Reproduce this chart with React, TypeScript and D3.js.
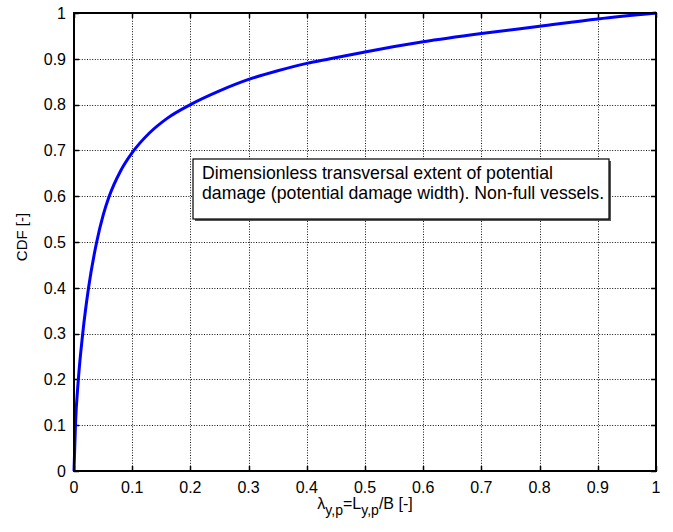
import React, { useEffect, useRef } from "react";
import * as d3 from "d3";

// curve points
const lambdaValues = [0, 0.0025, 0.0075, 0.015, 0.025, 0.039, 0.05, 0.06, 0.08, 0.1, 0.13, 0.16, 0.2, 0.25, 0.3, 0.35, 0.4, 0.44, 0.5, 0.6, 0.7, 0.8, 0.9, 1.0];
const cdfValues = [0, 0.1, 0.2, 0.3, 0.4, 0.5, 0.558, 0.598, 0.655, 0.695, 0.7385, 0.77, 0.8, 0.83, 0.855, 0.874, 0.89, 0.9, 0.915, 0.937, 0.955, 0.971, 0.987, 1.0];

const xTicks = [0, 0.1, 0.2, 0.3, 0.4, 0.5, 0.6, 0.7, 0.8, 0.9, 1];
const yTicks = [0, 0.1, 0.2, 0.3, 0.4, 0.5, 0.6, 0.7, 0.8, 0.9, 1];

const noteLines = [
    "Dimensionless transversal extent of potential",
    "damage (potential damage width). Non-full vessels.",
];

export default function App() {
    const svgRef = useRef<SVGSVGElement>(null);

    useEffect(() => {
        const width = 673;
        const height = 532;
        const margin = { top: 13, right: 17, bottom: 61, left: 74 };
        const font = "Arial, 'Liberation Sans', Helvetica, sans-serif";

        const svg = d3.select(svgRef.current);
        svg.selectAll("*").remove();
        svg.attr("width", width).attr("height", height);

        svg.append("rect").attr("width", width).attr("height", height).attr("fill", "#fff");

        const x = d3.scaleLinear().domain([0, 1]).range([margin.left, width - margin.right]);
        const y = d3.scaleLinear().domain([0, 1]).range([height - margin.bottom, margin.top]);

        const [x0, x1] = x.range();
        const [y0, y1] = y.range();

        // dotted grid
        const grid = svg.append("g").attr("stroke", "#111").attr("stroke-width", 1).attr("stroke-dasharray", "1,1.6");
        grid.selectAll(".gx")
            .data(xTicks.slice(1, -1))
            .join("line")
            .attr("x1", (d) => Math.round(x(d)) + 0.5)
            .attr("x2", (d) => Math.round(x(d)) + 0.5)
            .attr("y1", y1)
            .attr("y2", y0);
        grid.selectAll(".gy")
            .data(yTicks.slice(1, -1))
            .join("line")
            .attr("y1", (d) => Math.round(y(d)) + 0.5)
            .attr("y2", (d) => Math.round(y(d)) + 0.5)
            .attr("x1", x0)
            .attr("x2", x1);

        // ticks on all four sides, pointing inwards
        const tickLen = 5;
        const ticks = svg.append("g").attr("stroke", "#000").attr("stroke-width", 1.5);
        xTicks.forEach((t) => {
            const px = Math.round(x(t)) + 0.5;
            ticks.append("line").attr("x1", px).attr("x2", px).attr("y1", y0).attr("y2", y0 - tickLen);
            ticks.append("line").attr("x1", px).attr("x2", px).attr("y1", y1).attr("y2", y1 + tickLen);
        });
        yTicks.forEach((t) => {
            const py = Math.round(y(t)) + 0.5;
            ticks.append("line").attr("y1", py).attr("y2", py).attr("x1", x0).attr("x2", x0 + tickLen);
            ticks.append("line").attr("y1", py).attr("y2", py).attr("x1", x1).attr("x2", x1 - tickLen);
        });

        // the CDF curve
        const pts = lambdaValues.map((v, i) => [v, cdfValues[i]] as [number, number]);
        const line = d3.line<[number, number]>()
            .x((d) => x(d[0]))
            .y((d) => y(d[1]))
            .curve(d3.curveMonotoneX);
        svg.append("path")
            .datum(pts)
            .attr("d", line)
            .attr("fill", "none")
            .attr("stroke", "#0000ff")
            .attr("stroke-width", 3);

        // axes box
        svg.append("rect")
            .attr("x", x0)
            .attr("y", y1)
            .attr("width", x1 - x0)
            .attr("height", y0 - y1)
            .attr("fill", "none")
            .attr("stroke", "#000")
            .attr("stroke-width", 2);

        // tick labels
        svg.append("g")
            .selectAll("text")
            .data(xTicks)
            .join("text")
            .attr("x", (d) => x(d))
            .attr("y", y0 + 21.5)
            .attr("text-anchor", "middle")
            .attr("font-family", font)
            .attr("font-size", 16)
            .text((d) => String(d));
        svg.append("g")
            .selectAll("text")
            .data(yTicks)
            .join("text")
            .attr("x", x0 - 8)
            .attr("y", (d) => y(d))
            .attr("dy", "0.36em")
            .attr("text-anchor", "end")
            .attr("font-family", font)
            .attr("font-size", 16)
            .text((d) => String(d));

        // axis labels
        svg.append("text")
            .attr("transform", `translate(27,237) rotate(-90)`)
            .attr("text-anchor", "middle")
            .attr("font-family", font)
            .attr("font-size", 15)
            .text("CDF [-]");

        const xl = svg.append("text")
            .attr("x", (x0 + x1) / 2)
            .attr("y", 509)
            .attr("text-anchor", "middle")
            .attr("font-family", font)
            .attr("font-size", 16);
        xl.append("tspan").text("λ");
        xl.append("tspan").attr("dy", 6).attr("font-size", 14).text("y,p");
        xl.append("tspan").attr("dy", -6).text("=L");
        xl.append("tspan").attr("dy", 6).attr("font-size", 14).text("y,p");
        xl.append("tspan").attr("dy", -6).text("/B [-]");

        // annotation box
        const box = svg.append("g");
        box.append("rect")
            .attr("x", 195)
            .attr("y", 161)
            .attr("width", 416)
            .attr("height", 60)
            .attr("fill", "#555");
        box.append("rect")
            .attr("x", 193)
            .attr("y", 159)
            .attr("width", 416)
            .attr("height", 60)
            .attr("fill", "#fff")
            .attr("stroke", "#000")
            .attr("stroke-width", 1.2);
        box.selectAll(".note")
            .data(noteLines)
            .join("text")
            .attr("x", 202)
            .attr("y", (_, i) => 179 + i * 20)
            .attr("font-family", font)
            .attr("font-size", 17.7)
            .text((d) => d);
    }, []);

    return (
        <div>
            <svg ref={svgRef} style={{ position: "absolute", left: 0, top: 0 }}></svg>
        </div>
    );
}
